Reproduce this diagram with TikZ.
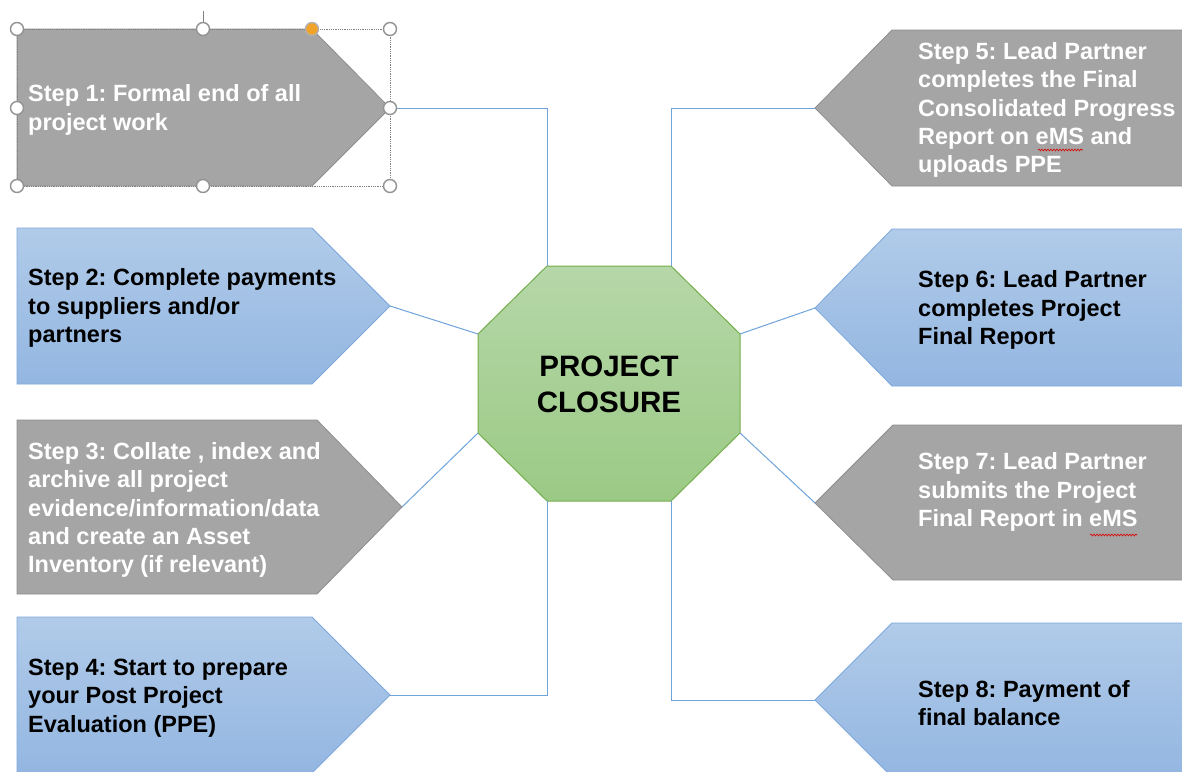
\documentclass[tikz,border=0pt]{standalone}
\usepackage{fontspec}
\setmainfont{Liberation Sans}
\usetikzlibrary{decorations.pathmorphing}
\frenchspacing

\definecolor{stepgray}{HTML}{A5A5A5}
\definecolor{grayline}{HTML}{8E8E8E}
\definecolor{bluetop}{HTML}{B1CBE9}
\definecolor{bluebot}{HTML}{93B6E1}
\definecolor{blueline}{HTML}{7EA8DD}
\definecolor{greentop}{HTML}{B6D7A8}
\definecolor{greenbot}{HTML}{9BCA85}
\definecolor{greenline}{HTML}{74AE4C}
\definecolor{linkblue}{HTML}{6FA3DB}
\definecolor{handleorange}{HTML}{F2A329}

\begin{document}
\begin{tikzpicture}[x=1pt, y=-1pt,
    graybox/.style={fill=stepgray, draw=grayline, line width=0.8pt},
    bluebox/.style={top color=bluetop, bottom color=bluebot, draw=blueline, line width=0.8pt},
    steptext/.style={anchor=west, inner sep=0pt, align=left, font=\fontsize{23.5}{28.3}\selectfont\bfseries},
    link/.style={draw=linkblue, line width=1pt},
    handle/.style={circle, draw=gray!85, fill=white, line width=1.4pt, minimum size=13pt, inner sep=0pt}]
  \useasboundingbox (0,0) rectangle (1182,771);
  \clip (0,0) rectangle (1182,771);

  % left column, arrows point to the centre
  \draw[graybox] (17,29) -- (312,29) -- (390,108) coordinate (t1) -- (312,186) -- (17,186) -- cycle;
  \draw[bluebox] (17,228) -- (312,228) -- (390,306) coordinate (t2) -- (312,384) -- (17,384) -- cycle;
  \draw[graybox] (17,420) -- (317,420) -- (402,507) coordinate (t3) -- (317,594) -- (17,594) -- cycle;
  \draw[bluebox] (17,617) -- (312,617) -- (390,695) coordinate (t4) -- (312,773) -- (17,773) -- cycle;

  % right column
  \draw[graybox] (1190,30) -- (892,30) -- (815,108) coordinate (t5) -- (892,186) -- (1190,186) -- cycle;
  \draw[bluebox] (1190,229) -- (892,229) -- (815,308) coordinate (t6) -- (892,386) -- (1190,386) -- cycle;
  \draw[graybox] (1190,425) -- (893,425) -- (815,503) coordinate (t7) -- (893,580) -- (1190,580) -- cycle;
  \draw[bluebox] (1190,623) -- (892,623) -- (815,700) coordinate (t8) -- (892,777) -- (1190,777) -- cycle;

  % centre octagon
  \draw[top color=greentop, bottom color=greenbot, draw=greenline, line width=1pt]
    (547,266) coordinate (o1) -- (671,266) coordinate (o2) -- (740,334) coordinate (o3)
    -- (740,433) coordinate (o4) -- (671,501) coordinate (o5) -- (547,501) coordinate (o6)
    -- (478,433) coordinate (o7) -- (478,334) coordinate (o8) -- cycle;
  \node[align=center, font=\fontsize{29.5}{36.2}\selectfont\bfseries] (closure) at (609,384) {PROJECT\\CLOSURE};

  % links
  \draw[link] (t1) -| (o1);
  \draw[link] (t2) -- (o8);
  \draw[link] (t3) -- (o7);
  \draw[link] (t4) -| (o6);
  \draw[link] (t5) -| (o2);
  \draw[link] (t6) -- (o3);
  \draw[link] (t7) -- (o4);
  \draw[link] (t8) -| (o5);

  % step texts
  \node[steptext, white] (s1) at (28,110) {Step 1: Formal end of all\\project work};
  \node[steptext] (s2) at (28,308) {Step 2: Complete payments\\to suppliers and/or\\partners};
  \node[steptext, white] (s3) at (28,510) {Step 3: Collate , index and\\archive all project\\evidence/information/data\\and create an Asset\\Inventory (if relevant)};
  \node[steptext] (s4) at (28,698) {Step 4: Start to prepare\\your Post Project\\Evaluation (PPE)};
  \node[steptext, white] (s5) at (918,110) {Step 5: Lead Partner\\completes the Final\\Consolidated Progress\\Report on eMS and\\uploads PPE};
  \node[steptext] (s6) at (918,310) {Step 6: Lead Partner\\completes Project\\Final Report};
  \node[steptext, white] (s7) at (918,492) {Step 7: Lead Partner\\submits the Project\\Final Report in eMS};
  \node[steptext] (s8) at (918,703) {Step 8: Payment of\\final balance};

  % spelling marks under eMS
  \draw[red!85!black, line width=0.6pt, decorate, decoration={snake, amplitude=0.9pt, segment length=3pt}] (1038,150) -- (1083,150);
  \draw[red!85!black, line width=0.6pt, decorate, decoration={snake, amplitude=0.9pt, segment length=3pt}] (1090,535) -- (1137,535);

  % selection frame on step 1
  \draw[gray, densely dotted, line width=0.8pt] (17,29) rectangle (390,186);
  \draw[gray, line width=1pt] (203,11) -- (203,24);
  \foreach \p [count=\i] in {(17,29), (203,29), (390,29), (17,108), (390,108), (17,186), (203,186), (390,186)}
    \node[handle] (h\i) at \p {};
  \node[handle, fill=handleorange, draw=gray!60] (adj) at (312,29) {};
\end{tikzpicture}
\end{document}
